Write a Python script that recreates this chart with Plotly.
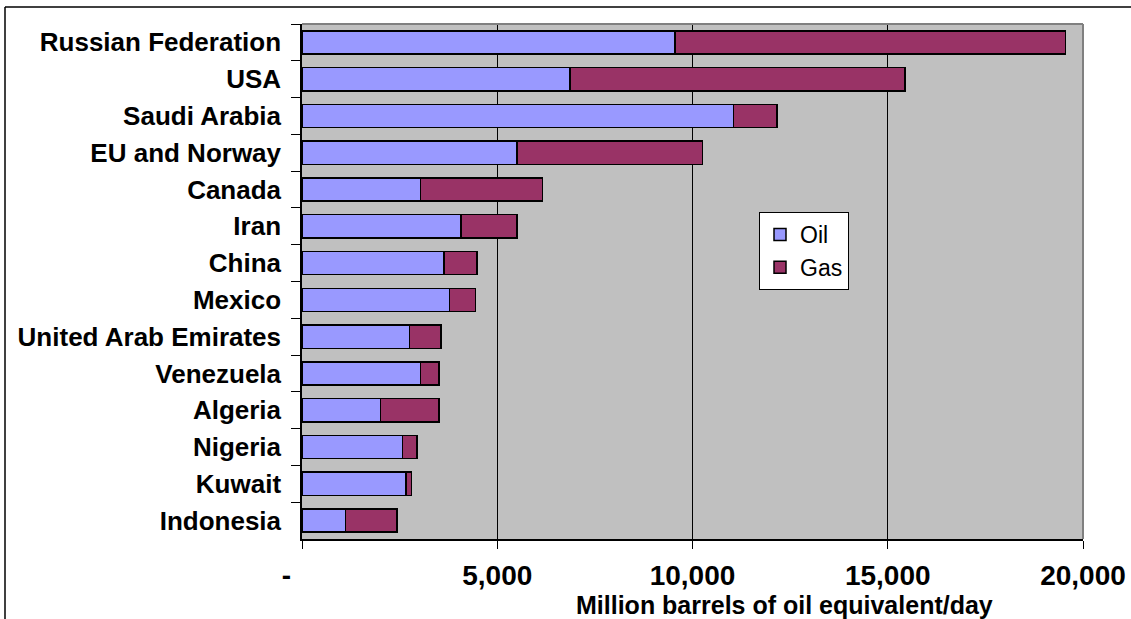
import plotly.graph_objects as go

# Producers, listed top to bottom
countries = [
    "Russian Federation", "USA", "Saudi Arabia", "EU and Norway", "Canada",
    "Iran", "China", "Mexico", "United Arab Emirates", "Venezuela",
    "Algeria", "Nigeria", "Kuwait", "Indonesia",
]
# Million barrels of oil equivalent per day
oil = [9550, 6860, 11050, 5500, 3030, 4070, 3640, 3780, 2750, 3040, 2010, 2570, 2660, 1110]
gas = [10000, 8580, 1120, 4760, 3130, 1440, 845, 665, 805, 465, 1495, 370, 145, 1325]

x_ticks = [0, 5000, 10000, 15000, 20000]
x_tick_text = ["-\u00a0\u00a0\u00a0\u00a0", "5,000", "10,000", "15,000", "20,000"]

FONT = "Liberation Sans, Arial, sans-serif"
OIL_COLOR = "#9999FF"
GAS_COLOR = "#993366"

fig = go.Figure()
fig.add_trace(go.Bar(
    y=countries, x=oil, name="Oil", orientation="h", legendgroup="oil",
    marker=dict(color=OIL_COLOR, line=dict(color="black", width=1.5)),
))
fig.add_trace(go.Bar(
    y=countries, x=gas, name="Gas", orientation="h", legendgroup="gas",
    marker=dict(color=GAS_COLOR, line=dict(color="black", width=1.5)),
))

fig.update_layout(
    width=1131, height=619,
    margin=dict(l=302, r=48, t=24, b=80, autoexpand=False),
    barmode="stack", bargap=0.37,
    plot_bgcolor="#C0C0C0", paper_bgcolor="white",
    font=dict(family=FONT, color="black"),
    legend=dict(
        x=(759 - 302) / 781, y=(539 - 212) / 515, xanchor="left", yanchor="top",
        bgcolor="white", bordercolor="black", borderwidth=1,
        font=dict(family=FONT, size=23, color="black"),
        traceorder="normal", tracegroupgap=6, entrywidth=68,
    ),
    xaxis=dict(
        range=[0, 20000], tickvals=x_ticks, ticktext=x_tick_text,
        showgrid=True, gridcolor="black", gridwidth=1,
        showline=True, linecolor="black", linewidth=1.5,
        ticks="outside", ticklen=8, tickcolor="black",
        ticklabelstandoff=3, automargin=False,
        tickfont=dict(family=FONT, size=28, color="black", weight="bold"),
        zeroline=False, fixedrange=True,
    ),
    yaxis=dict(
        autorange="reversed", tickson="boundaries",
        showgrid=False, showline=True, linecolor="black", linewidth=1.5,
        ticks="outside", ticklen=9, tickcolor="black",
        ticklabelstandoff=14, automargin=False,
        tickfont=dict(family=FONT, size=26, color="black", weight="bold"),
        fixedrange=True,
    ),
    annotations=[dict(
        text="Million barrels of oil equivalent/day",
        xref="paper", yref="paper",
        x=(784 - 302) / 781, y=(539 - 605) / 515,
        xanchor="center", yanchor="middle", showarrow=False,
        font=dict(family=FONT, size=25, color="black", weight="bold"),
    )],
    shapes=[
        # plot-area frame on top and right
        dict(type="line", xref="paper", yref="paper", x0=0, x1=1, y0=1, y1=1,
             line=dict(color="#808080", width=2)),
        dict(type="line", xref="paper", yref="paper", x0=1, x1=1, y0=0, y1=1,
             line=dict(color="#808080", width=2)),
        # chart frame on top and left
        dict(type="line", xref="paper", yref="paper",
             x0=(5 - 302) / 781, x1=(1131 - 302) / 781,
             y0=(539 - 7) / 515, y1=(539 - 7) / 515,
             line=dict(color="black", width=1.5)),
        dict(type="line", xref="paper", yref="paper",
             x0=(5 - 302) / 781, x1=(5 - 302) / 781,
             y0=(539 - 7) / 515, y1=(539 - 640) / 515,
             line=dict(color="black", width=1.5)),
    ],
)

fig.write_html("out.html")
